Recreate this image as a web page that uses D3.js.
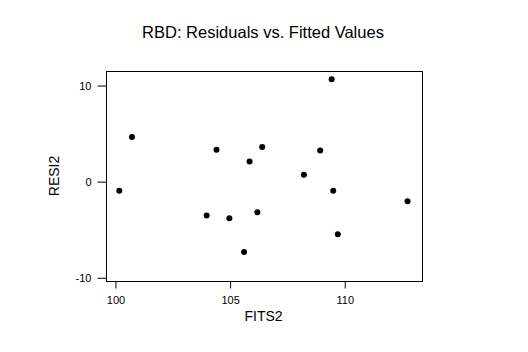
<!DOCTYPE html>
<html>
<head>
<meta charset="utf-8">
<script src="https://cdn.jsdelivr.net/npm/d3@7"></script>
<style>
  body { margin: 0; background: #fff; }
  text { font-family: "Liberation Sans", Arial, sans-serif; fill: #000; }
</style>
</head>
<body>
<svg id="chart" width="528" height="352"></svg>
<script>
// fitted values (FITS2) and residuals (RESI2)
const fits = [100.19, 100.74, 104.43, 106.42, 105.87, 109.45, 108.95, 108.24,
  109.52, 112.76, 104.0, 104.99, 106.21, 109.72, 105.63];
const resids = [-1.01, 4.6, 3.26, 3.54, 2.04, 10.6, 3.19, 0.66,
  -1.01, -2.08, -3.58, -3.85, -3.23, -5.52, -7.36];
const xTicks = [100, 105, 110];
const yTicks = [-10, 0, 10];

const svg = d3.select("#chart");
const box = { left: 106, top: 71, right: 422, bottom: 281 };

const x = d3.scaleLinear().domain([99.61, 113.39]).range([box.left, box.right]);
const y = d3.scaleLinear().domain([-10.39, 11.46]).range([box.bottom, box.top]);

const data = fits.map((f, i) => ({ f: f, r: resids[i] }));

// frame
svg.append("rect")
  .attr("x", box.left + 0.5)
  .attr("y", box.top + 0.5)
  .attr("width", box.right - box.left)
  .attr("height", box.bottom - box.top)
  .attr("fill", "none")
  .attr("stroke", "#000")
  .attr("stroke-width", 1);

// axes
const xAxis = svg.append("g")
  .attr("transform", `translate(0.5,${box.bottom + 0.5})`)
  .call(d3.axisBottom(x).tickValues(xTicks).tickSize(7).tickPadding(8));
const yAxis = svg.append("g")
  .attr("transform", `translate(${box.left + 0.5},0.5)`)
  .call(d3.axisLeft(y).tickValues(yTicks).tickSize(9).tickPadding(6).tickFormat(d3.format("d")));

[xAxis, yAxis].forEach((g) => {
  g.select(".domain").remove();
  g.selectAll("line").attr("stroke", "#000");
  g.selectAll("text").attr("font-size", 11).attr("fill", "#000")
    .attr("font-family", "Liberation Sans, Arial, sans-serif");
});
yAxis.selectAll("text").text((d) => (d < 0 ? "-" + Math.abs(d) : d));

// points
svg.append("g")
  .selectAll("circle")
  .data(data)
  .join("circle")
  .attr("cx", (d) => x(d.f))
  .attr("cy", (d) => y(d.r))
  .attr("r", 3)
  .attr("fill", "#000");

// labels
svg.append("text")
  .attr("x", 263)
  .attr("y", 38)
  .attr("text-anchor", "middle")
  .attr("font-size", 16.5)
  .text("RBD: Residuals vs. Fitted Values");

svg.append("text")
  .attr("x", 263.5)
  .attr("y", 321)
  .attr("text-anchor", "middle")
  .attr("font-size", 14)
  .text("FITS2");

svg.append("text")
  .attr("transform", `translate(59,176) rotate(-90)`)
  .attr("text-anchor", "middle")
  .attr("font-size", 14)
  .text("RESI2");
</script>
</body>
</html>
